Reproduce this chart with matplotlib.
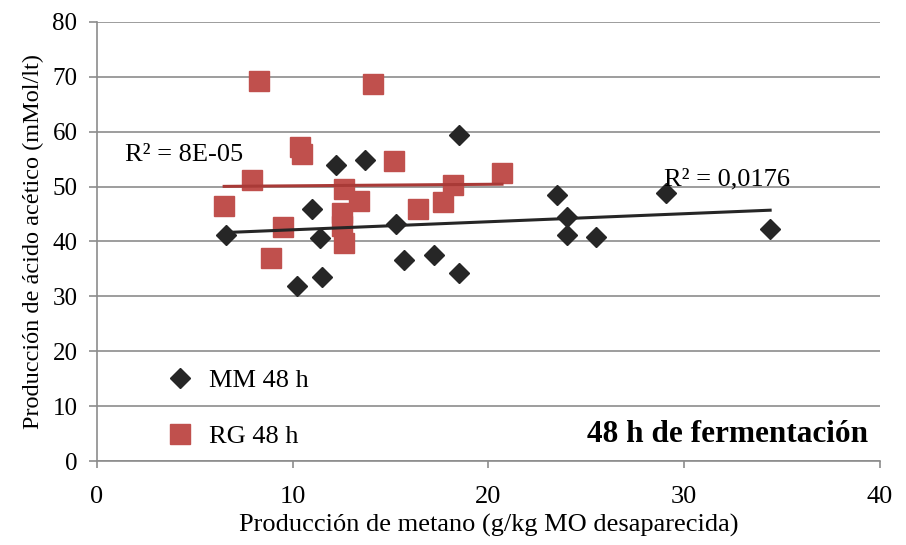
import numpy as np
import matplotlib.pyplot as plt

plt.rcParams['font.family'] = ['Liberation Serif', 'DejaVu Serif']

# MM 48 h
mm_x = [6.6, 10.2, 11.5, 11.0, 11.4, 12.2, 13.7, 15.3, 15.7, 17.2, 18.5, 18.5,
        23.5, 24.0, 24.0, 25.5, 29.1, 34.4]
mm_y = [41.2, 31.9, 33.5, 45.9, 40.6, 53.9, 54.9, 43.2, 36.6, 37.5, 59.4, 34.3,
        48.5, 44.5, 41.2, 40.8, 48.8, 42.3]

# RG 48 h
rg_x = [8.3, 14.1, 10.4, 10.5, 15.2, 7.9, 6.5, 9.5, 8.9, 12.6, 13.4, 12.5,
        12.5, 12.6, 16.4, 17.7, 18.2, 20.7]
rg_y = [69.2, 68.7, 57.2, 55.9, 54.7, 51.2, 46.5, 42.6, 37.0, 49.6, 47.4, 45.2,
        42.8, 39.7, 45.9, 47.2, 50.3, 52.5]

mm_color = '#262626'
rg_color = '#C0504D'

fig, ax = plt.subplots(figsize=(9.06, 5.45), dpi=100)
fig.subplots_adjust(left=0.107, right=0.971, top=0.96, bottom=0.154)

ax.plot(mm_x, mm_y, 'D', color=mm_color, markersize=10.5, label='MM 48 h', zorder=3)
ax.plot(rg_x, rg_y, 's', color=rg_color, markersize=14, label='RG 48 h', zorder=3)

# linear trendlines
for xs, ys, c in [(mm_x, mm_y, mm_color), (rg_x, rg_y, '#A93A37')]:
    k, b = np.polyfit(xs, ys, 1)
    xx = np.array([min(xs), max(xs)])
    ax.plot(xx, k * xx + b, color=c, linewidth=2.2, zorder=4)

ax.text(1.43, 55.8, 'R² = 8E-05', fontsize=19, va='center')
ax.text(29.0, 51.2, 'R² = 0,0176', fontsize=19, va='center')
ax.text(39.4, 4.8, '48 h de fermentación', fontsize=22.5, fontweight='bold',
        ha='right', va='center')

ax.set_xlim(0, 40)
ax.set_ylim(0, 80)
ax.set_xticks(range(0, 41, 10))
ax.set_yticks(range(0, 81, 10))
ax.yaxis.grid(True, color='#8c8c8c', linewidth=1.2)
ax.set_axisbelow(True)
for s in ['top', 'right']:
    ax.spines[s].set_visible(False)
for s in ['left', 'bottom']:
    ax.spines[s].set_color('#8c8c8c')
    ax.spines[s].set_linewidth(1.2)
ax.tick_params(axis='x', labelsize=19, color='#8c8c8c', length=5, width=1.2, pad=13)
ax.tick_params(axis='y', labelsize=18, color='#8c8c8c', length=6, width=1.2, pad=8)

ax.set_xlabel('Producción de metano (g/kg MO desaparecida)', fontsize=19, labelpad=4)
ax.set_ylabel('Producción de ácido acético (mMol/lt)', fontsize=17.5, labelpad=6)

ax.legend(loc='lower left', bbox_to_anchor=(0.055, -0.025), frameon=False, fontsize=19,
          labelspacing=1.25, handletextpad=0.5, handlelength=1.2)

fig.savefig('out.png')
